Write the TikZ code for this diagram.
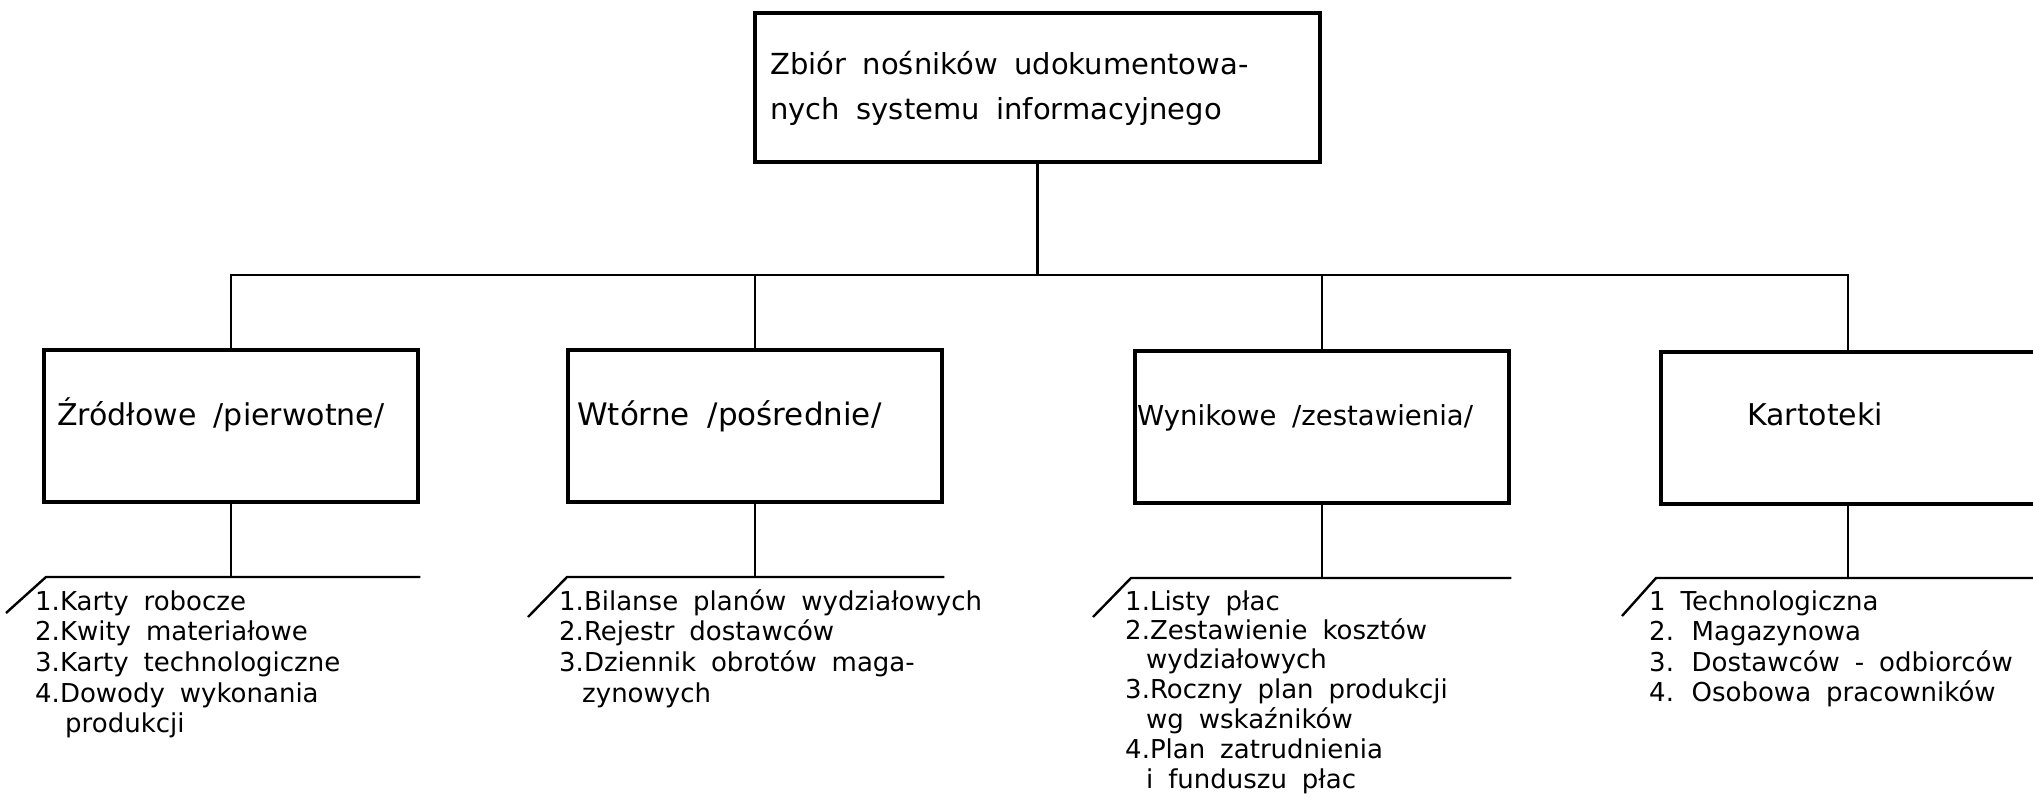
\documentclass[tikz,border=0pt]{standalone}
\usepackage{fontspec}
\setmainfont{DejaVu Sans}[WordSpace=1.8]
\begin{document}
\begin{tikzpicture}[x=1pt,y=-1pt,
  box/.style={draw,line width=4.8pt,inner sep=0pt,minimum width=374pt,minimum height=152pt},
  conn/.style={line width=2.4pt},
  txt/.style={anchor=base west,inner sep=0pt,font=\fontsize{26}{30}\selectfont},
  head/.style={txt,font=\fontsize{29}{34}\selectfont},
  cat/.style={txt,font=\fontsize{30}{34}\selectfont}]
\useasboundingbox (0,0) rectangle (2033,801);
\clip (0,0) rectangle (2033,801);

% root box
\node[box,minimum width=565pt,minimum height=149pt] (root) at (1037.5,87.5) {};
\node[head] (root1) at (770,74) {Zbiór nośników udokumentowa-};
\node[head] (root2) at (770,119) {nych systemu informacyjnego};

% second level boxes
\node[box] (b1) at (231,426) {};
\node[box] (b2) at (755,426) {};
\node[box] (b3) at (1322,427) {};
\node[box] (b4) at (1848,428) {};

\node[cat] (l1) at (57,425) {Źródłowe /pierwotne/};
\node[cat,font=\fontsize{31}{34}\selectfont] (l2) at (577,425) {Wtórne /pośrednie/};
\node[cat,font=\fontsize{27.5}{34}\selectfont] (l3) at (1137,425) {Wynikowe /zestawienia/};
\node[cat] (l4) at (1747,425) {Kartoteki};

% bus between the levels
\coordinate (bus) at (1037.5,275);
\draw[conn] (root.south) -- (bus);
\draw[conn] (b1.north) -- (b1.north |- bus) -- (b4.north |- bus) -- (b4.north);
\draw[conn] (b2.north) -- (b2.north |- bus);
\draw[conn] (b3.north) -- (b3.north |- bus);

% list headers: drop, slanted lead-in and rule
\coordinate (s1) at (6,613);   \coordinate (c1) at (46,577);
\coordinate (s2) at (528,617); \coordinate (c2) at (567,577);
\coordinate (s3) at (1093,617);\coordinate (c3) at (1131,578);
\coordinate (s4) at (1622,616);\coordinate (c4) at (1656,578);
\foreach \i in {1,...,4}{
  \draw[conn] (b\i.south) -- (b\i.south |- c\i);
  \draw[conn] (s\i) -- (c\i) -- (b\i.east |- c\i);
}

% list of box 1
\node[txt] (a1) at (35,610) {1.Karty robocze};
\node[txt] (a2) at (35,640) {2.Kwity materiałowe};
\node[txt] (a3) at (35,671) {3.Karty technologiczne};
\node[txt] (a4) at (35,702) {4.Dowody wykonania};
\node[txt] (a5) at (65,732) {produkcji};

% list of box 2
\node[txt] (m1) at (559,610) {1.Bilanse planów wydziałowych};
\node[txt] (m2) at (559,640) {2.Rejestr dostawców};
\node[txt] (m3) at (559,671) {3.Dziennik obrotów maga-};
\node[txt] (m4) at (582,702) {zynowych};

% list of box 3
\node[txt] (n1) at (1125,610) {1.Listy płac};
\node[txt] (n2) at (1125,639) {2.Zestawienie kosztów};
\node[txt] (n3) at (1146,668) {wydziałowych};
\node[txt] (n4) at (1125,698) {3.Roczny plan produkcji};
\node[txt] (n5) at (1146,728) {wg wskaźników};
\node[txt] (n6) at (1125,758) {4.Plan zatrudnienia};
\node[txt] (n7) at (1146,788) {i funduszu płac};

% list of box 4
\node[txt] (k1) at (1649,610) {1 Technologiczna};
\node[txt] (k2) at (1649,640) {2. Magazynowa};
\node[txt] (k3) at (1649,671) {3. Dostawców - odbiorców};
\node[txt] (k4) at (1649,701) {4. Osobowa pracowników};
\end{tikzpicture}
\end{document}
